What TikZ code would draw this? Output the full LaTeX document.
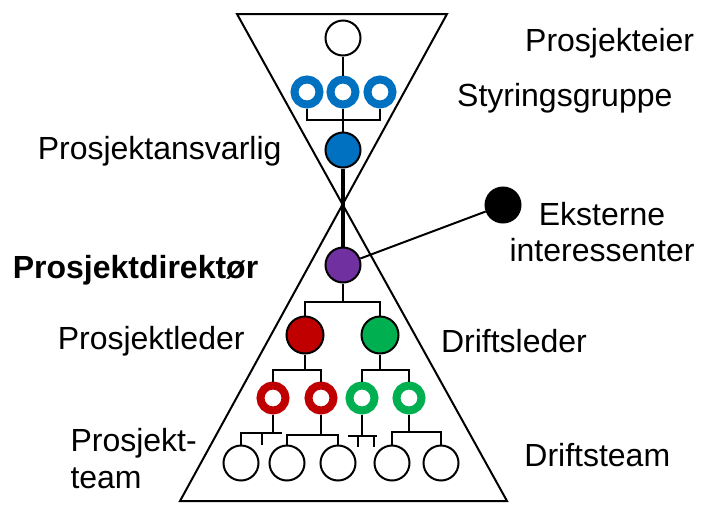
\documentclass[tikz,border=0pt]{standalone}
\usepackage{fontspec}
\setmainfont{Liberation Sans}
\usetikzlibrary{calc}

\definecolor{styreblaa}{HTML}{0070C0}
\definecolor{direktorlilla}{HTML}{7030A0}
\definecolor{prosjektrod}{HTML}{C00000}
\definecolor{driftgronn}{HTML}{00B050}

\tikzset{
  person/.style={circle, draw=black, line width=2pt, minimum size=35pt, inner sep=0pt},
  leder/.style={person, minimum size=37pt},
  medlem/.style={circle, draw=#1, line width=8pt, minimum size=25pt, inner sep=0pt, fill=white},
  kobling/.style={line width=2pt},
  lbl/.style={inner sep=0pt, font=\fontsize{32}{36.7}\selectfont},
}

\begin{document}
\begin{tikzpicture}[x=1pt, y=-1pt]
\useasboundingbox (0,0) rectangle (702,504);
% timeglasset
\draw[line width=2pt] (237,14) -- (447,14) -- (180,501) -- (507,501) -- cycle;

% eier, styringsgruppe og ledere
\node[person] (eier) at (343,38) {};
\foreach \x/\n in {307/sg1, 343/sg2, 380/sg3}
  \node[medlem=styreblaa] (\n) at (\x,92) {};
\node[person, fill=styreblaa] (ansvarlig) at (343,150) {};
\node[person, fill=direktorlilla] (direktor) at (343,265) {};
\node[person, fill=black] (ekstern) at (503,205) {};
\node[leder, fill=prosjektrod] (pleder) at (305,335) {};
\node[leder, fill=driftgronn] (dleder) at (380,335) {};
\foreach \x/\n/\c in {273/pt1/prosjektrod, 321/pt2/prosjektrod, 362/dt1/driftgronn, 409/dt2/driftgronn}
  \node[medlem=\c] (\n) at (\x,398) {};
\foreach \x [count=\i] in {241,287,338,392,441}
  \node[person] (team\i) at (\x,463) {};

% linjer
\draw[kobling] (eier) -- (sg2);
\draw[kobling] (sg1.south) |- ($(sg2.south)!0.5!(ansvarlig.north)$) -| (sg3.south);
\draw[kobling] (sg2) -- (ansvarlig);
\draw[line width=4.5pt] (ansvarlig) -- (direktor);
\draw[kobling] (direktor) -- (ekstern);
\draw[kobling] (direktor.south) -- ++(0,18) coordinate (lederbus);
\draw[kobling] (pleder.north) |- (lederbus) -| (dleder.north);
\draw[kobling] (pleder.south) -- ++(0,15.5) coordinate (pbus);
\draw[kobling] (pt1.north) |- (pbus) -| (pt2.north);
\draw[kobling] (dleder.south) -- ++(0,15.5) coordinate (dbus);
\draw[kobling] (dt1.north) |- (dbus) -| (dt2.north);

% team
\draw[kobling] (pt1.south) -- ++(0,18.5) coordinate (b1);
\draw[kobling] (team1.north) |- (b1) -- ++(9,0);
\draw[kobling] ([xshift=-11pt]b1) -- ++(0,11.5);
\draw[kobling] (pt2.south) -- ++(0,20.5) coordinate (b2);
\draw[kobling] (team2.north) |- (b2) -| (team3.north);
\draw[kobling] (dt1.south) -- ++(0,21.5) coordinate (b3);
\draw[kobling] ([xshift=-14pt]b3) -- ([xshift=15pt]b3);
\draw[kobling] ([xshift=-4pt]b3) -- ++(0,10.5);
\draw[kobling] ([xshift=12pt]b3) -- ++(0,10.5);
\draw[kobling] (dt2.south) -- ++(0,17.5) coordinate (b4);
\draw[kobling] (team4.north) |- (b4) -| (team5.north);

% tekster
\node[lbl, anchor=base west] (eiertekst) at (525,51.7) {Prosjekteier};
\node[lbl, anchor=base west] (sgtekst) at (457,106.7) {Styringsgruppe};
\node[lbl, anchor=base west] (ansvarligtekst) at (37.6,159.3) {Prosjektansvarlig};
\node[lbl, anchor=base west, font=\fontsize{32}{36.7}\selectfont\bfseries] (direktortekst) at (12.6,278.3) {Prosjektdirektør};
\node[lbl, anchor=base, text width=220pt, align=center] (eksterntekst) at (602,225) {Eksterne\\interessenter};
\node[lbl, anchor=base west] (plederstekst) at (57.6,349.3) {Prosjektleder};
\node[lbl, anchor=base west] (dlederstekst) at (440.8,352.7) {Driftsleder};
\node[lbl, anchor=base west, text width=150pt, align=left] (ptekst) at (70.3,451.7) {Prosjekt-\\team};
\node[lbl, anchor=base west] (dtekst) at (524.2,466.7) {Driftsteam};
\end{tikzpicture}
\end{document}
